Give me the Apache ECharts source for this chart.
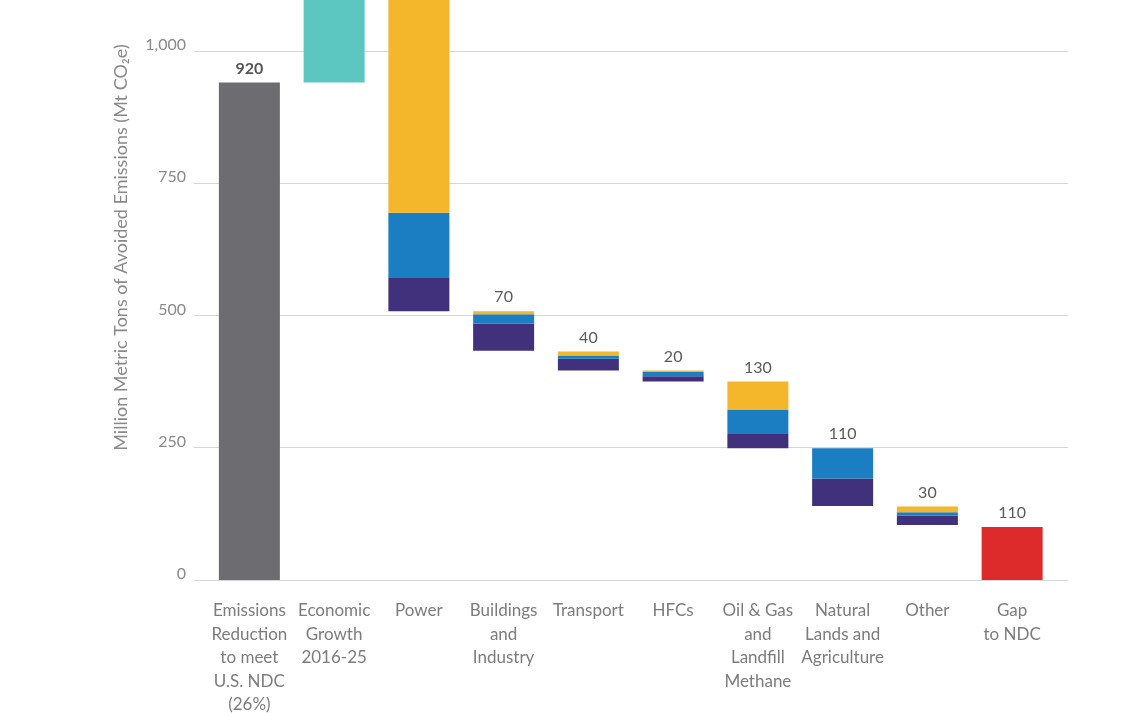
<!DOCTYPE html>
<html>
<head>
<meta charset="utf-8">
<style>
html,body{margin:0;padding:0;background:#fff;}
#chart{width:1140px;height:713px;}
</style>
<script src="https://cdn.jsdelivr.net/npm/echarts@6/dist/echarts.min.js"></script>
</head>
<body>
<div id="chart"></div>
<script>
const categories = ['Emissions\nReduction\nto meet\nU.S. NDC\n(26%)', 'Economic\nGrowth\n2016-25', 'Power', 'Buildings\nand\nIndustry', 'Transport', 'HFCs', 'Oil & Gas\nand\nLandfill\nMethane', 'Natural\nLands and\nAgriculture', 'Other', 'Gap\nto NDC'];
const baseValues   = [0, 940, 508, 433, 396, 375, 249, 140, 104, 0];
const targetValues = [940, 0, 0, 0, 0, 0, 0, 0, 0, 0];
const growthValues = [0, 290, 0, 0, 0, 0, 0, 0, 0, 0];
const gapValues    = [0, 0, 0, 0, 0, 0, 0, 0, 0, 100];
const purpleValues = [0, 0, 64, 51, 22, 10, 27, 52, 18, 0];
const blueValues   = [0, 0, 122, 18, 6, 8, 46, 57, 6, 0];
const yellowValues = [0, 0, 536, 6, 8, 3, 53, 0, 11, 0];
const valueLabels  = ['920', '', '', '70', '40', '20', '130', '110', '30', '110'];
const yTicks = [0, 250, 500, 750, 1000];

const FONT = 'Lato';
const Y_MAX = 1096;
const chart = echarts.init(document.getElementById('chart'));

function stacked(name, data, color, extra) {
  return Object.assign({
    name: name, type: 'bar', stack: 'total', xAxisIndex: 1, yAxisIndex: 1,
    barWidth: 61, data: data, itemStyle: { color: color }, silent: true
  }, extra || {});
}

chart.setOption({
  animation: false,
  grid: [
    { left: 194, right: 72, top: 0, bottom: 133, outerBoundsMode: 'none', containLabel: false },
    { left: 207, right: 85.5, top: 0, bottom: 133, outerBoundsMode: 'none', containLabel: false }
  ],
  xAxis: [
    { gridIndex: 0, type: 'value', show: false, min: 0, max: 1 },
    {
      gridIndex: 1, type: 'category', data: categories,
      axisLine: { show: false }, axisTick: { show: false },
      axisLabel: {
        interval: 0, margin: 19, color: '#7c7c7c', fontFamily: FONT, fontSize: 17,
        lineHeight: 23.5, align: 'center'
      }
    }
  ],
  yAxis: [
    {
      gridIndex: 0, type: 'value', min: 0, max: Y_MAX, interval: 250,
      name: 'Million Metric Tons of Avoided Emissions (Mt CO\u2082e)',
      nameLocation: 'middle', nameGap: 64, nameRotate: 90,
      nameTextStyle: { color: '#8a8a8a', fontFamily: FONT, fontSize: 18, padding: [0, 0, 0, 85] },
      axisLine: { show: false }, axisTick: { show: false },
      splitLine: { show: true, showMaxLine: false, lineStyle: { color: '#d6d6d6', width: 1 } },
      axisLabel: {
        margin: 8, color: '#8a8a8a', fontFamily: FONT, fontSize: 16, verticalAlign: 'bottom',
        lineHeight: 12, showMaxLabel: false,
        formatter: function (v) { return yTicks.indexOf(v) >= 0 ? v.toLocaleString('en-US') : ''; }
      }
    },
    { gridIndex: 1, type: 'value', min: 0, max: Y_MAX, interval: 250, show: false }
  ],
  series: [
    stacked('base', baseValues, 'rgba(0,0,0,0)'),
    stacked('Emissions Reduction', targetValues, '#6d6d71'),
    stacked('Economic Growth', growthValues, '#5cc6c1'),
    stacked('Gap', gapValues, '#dd2a2b'),
    stacked('Purple', purpleValues, '#41307b'),
    stacked('Blue', blueValues, '#1b7dc2'),
    stacked('Yellow', yellowValues, '#f4b62a'),
    stacked('labels', valueLabels.map(function () { return 0; }), 'rgba(0,0,0,0)', {
      label: {
        show: true, position: 'top', distance: 6,
        fontFamily: FONT, fontSize: 16, color: '#5a5a5a',
        formatter: function (p) {
          const t = valueLabels[p.dataIndex];
          if (!t) return '';
          return p.dataIndex === 0 ? '{b|' + t + '}' : t;
        },
        rich: { b: { fontFamily: FONT, fontSize: 16, fontWeight: 'bold', color: '#555' } }
      }
    })
  ]
});
</script>
</body>
</html>
